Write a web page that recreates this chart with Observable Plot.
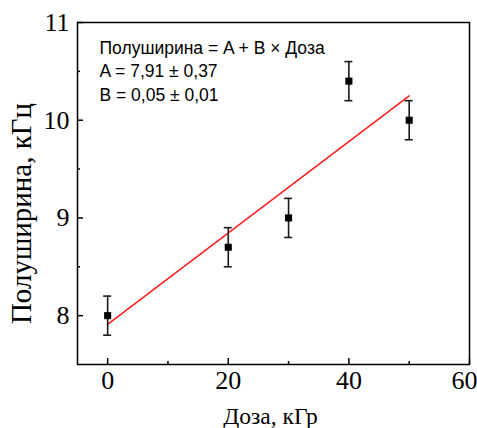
<!DOCTYPE html>
<html><head><meta charset="utf-8">
<script src="https://cdn.jsdelivr.net/npm/d3@7"></script>
<script src="https://cdn.jsdelivr.net/npm/@observablehq/plot@0.6"></script>
<style>body{margin:0;background:#fff}</style>
</head><body><div id="chart"></div>
<script>
const dose = [0, 20, 30, 40, 50];
const halfWidth = [8.0, 8.7, 9.0, 10.4, 10.0];
const halfWidthErr = [0.2, 0.2, 0.2, 0.2, 0.2];
const xMajorTicks = [0, 20, 40, 60];
const xMinorTicks = [10, 30, 50];
const yMajorTicks = [8, 9, 10, 11];
const yMinorTicks = [8.5, 9.5, 10.5];
const fitLabel = ["Полуширина = A + B × Доза", "A = 7,91 ± 0,37", "B = 0,05 ± 0,01"];
const xLabel = "Доза, кГр";
const yLabel = "Полуширина, кГц";

const data = dose.map((x, i) => ({x, y: halfWidth[i], lo: halfWidth[i] - halfWidthErr[i], hi: halfWidth[i] + halfWidthErr[i]}));
const serif = "Liberation Serif, Times New Roman, serif";
const sans = "Liberation Sans, Arial, sans-serif";
const blank = () => "";
const xInnerLabels = xMajorTicks.slice(0, -1);
const xLastLabel = xMajorTicks.slice(-1);

const chart = Plot.plot({
  width: 477, height: 428,
  marginLeft: 77, marginRight: 8, marginTop: 22, marginBottom: 64,
  x: {domain: [-5, 60]},
  y: {domain: [7.5, 11]},
  style: {background: "transparent", color: "black", overflow: "visible"},
  marks: [
    Plot.axisX({ticks: xMajorTicks, tickSize: -6, tickFormat: blank, label: null, strokeWidth: 1.5}),
    Plot.axisX({ticks: xMinorTicks, tickSize: -3, tickFormat: blank, label: null, strokeWidth: 1.5}),
    Plot.axisX({ticks: xInnerLabels, tickSize: 0, tickPadding: 6, tickFormat: "d", label: null, fontSize: 26, fontFamily: serif}),
    Plot.axisX({ticks: xLastLabel, tickSize: 0, tickPadding: 6, tickFormat: "d", label: null, fontSize: 26, fontFamily: serif, dx: -5}),
    Plot.axisY({ticks: yMajorTicks, tickSize: -6, tickFormat: blank, label: null, strokeWidth: 1.5}),
    Plot.axisY({ticks: yMinorTicks, tickSize: -3, tickFormat: blank, label: null, strokeWidth: 1.5}),
    Plot.axisY({ticks: yMajorTicks, tickSize: 0, tickPadding: 8, tickFormat: "d", label: null, fontSize: 26, fontFamily: serif}),
    Plot.frame({stroke: "black", strokeWidth: 1.5}),
    Plot.linearRegressionY(data, {x: "x", y: "y", stroke: "#ff1a1a", strokeWidth: 1.5, ci: 0}),
    Plot.ruleX(data, {x: "x", y1: "lo", y2: "hi", stroke: "#1a1a1a", strokeWidth: 1.6}),
    Plot.ruleY(data, {y: "hi", x1: "x", x2: "x", insetLeft: -4, insetRight: -4, stroke: "#1a1a1a", strokeWidth: 1.6}),
    Plot.ruleY(data, {y: "lo", x1: "x", x2: "x", insetLeft: -4, insetRight: -4, stroke: "#1a1a1a", strokeWidth: 1.6}),
    Plot.dot(data, {x: "x", y: "y", symbol: "square", r: 4, fill: "black"}),
    Plot.text([fitLabel.join("\n")], {text: d => d, frameAnchor: "top-left", dx: 22, dy: 14, lineHeight: 1.37, lineAnchor: "top", textAnchor: "start", fontSize: 17.5, fontFamily: sans, fill: "black"}),
    Plot.text([xLabel], {text: d => d, frameAnchor: "bottom", dx: -3, dy: 52, lineAnchor: "middle", textAnchor: "middle", fontSize: 23.5, fontFamily: serif, fill: "black"}),
    Plot.text([yLabel], {text: d => d, frameAnchor: "left", rotate: -90, dx: -56, dy: 20, lineAnchor: "middle", textAnchor: "middle", fontSize: 29, fontFamily: serif, fill: "black"})
  ]
});
document.getElementById("chart").appendChild(chart);
</script>
</body></html>
